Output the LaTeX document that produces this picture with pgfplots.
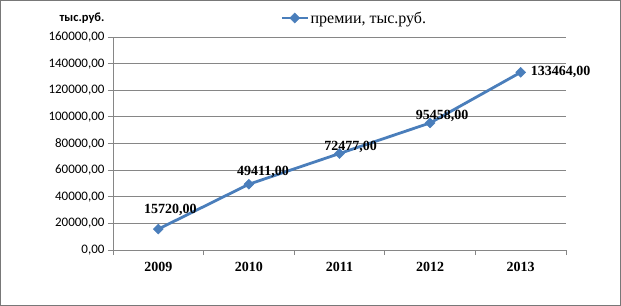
\documentclass[border=0pt]{standalone}
\usepackage{pgfplots}
\pgfplotsset{compat=1.18}
\usepackage{pgfplotstable}
\usepackage{fontspec}
\setmainfont{Liberation Serif}
\newfontfamily\calibri{Carlito}
\definecolor{serblue}{RGB}{74,126,187}
\definecolor{gridgray}{RGB}{134,134,134}
\definecolor{framegray}{RGB}{120,120,120}
\pgfplotstableread{
x y dx dy lab
0 15720 12 19 15720,00
1 49411 14 12.5 49411,00
2 72477 11 7 72477,00
3 95458 12 6.6 95458,00
}\labtab
\pgfplotstableread{
x y lab
4 133464 133464,00
}\labtabb
\begin{document}
\begin{tikzpicture}
\path[use as bounding box] (-113bp,-56bp) rectangle (508bp,250bp);
\draw[framegray, line width=1bp] (-112.5bp,-55.5bp) rectangle (507.5bp,249.5bp);
\begin{axis}[
  at={(0,0)}, anchor=south west,
  scale only axis, width=453bp, height=213bp,
  xmin=-0.5, xmax=4.5, ymin=0, ymax=160000,
  axis x line=bottom, axis y line=left,
  axis line style={gridgray, line width=0.8bp, -},
  xtick={0,...,4}, xticklabels={2009,2010,2011,2012,2013},
  minor xtick={-0.5,0.5,...,4.5},
  major x tick style={draw=none},
  minor x tick style={gridgray, line width=0.8bp},
  ytick={0,20000,...,160000},
  y tick style={gridgray, line width=0.8bp},
  tick align=outside,
  major tick length=5bp, minor tick length=5bp,
  ymajorgrids, grid style={gridgray, line width=0.8bp},
  scaled y ticks=false,
  yticklabel style={font=\calibri\fontsize{13bp}{15bp}\selectfont, /pgf/number format/.cd, fixed, fixed zerofill, precision=2, use comma, 1000 sep={}, assume math mode=true},
  xticklabel style={font=\bfseries\fontsize{14bp}{16bp}\selectfont, yshift=-4bp},
  legend style={at={(0.532,1.089)}, anchor=center, draw=none, fill=none,
    font=\fontsize{16bp}{18bp}\selectfont, inner sep=0pt,
    nodes={inner sep=1.5bp}},
  legend image code/.code={\draw[mark repeat=2,mark phase=2,#1] plot coordinates {(0bp,0bp) (13bp,0bp) (26bp,0bp)};},
  clip=false,
]
\addplot[serblue, line width=2.8bp, mark=square*, mark size=3.5bp, mark options={rotate=45, solid, fill=serblue, line width=0.5bp}]
  coordinates {(0,15720) (1,49411) (2,72477) (3,95458) (4,133464)};
\addlegendentry{премии, тыс.руб.}
\addplot[draw=none, mark=none, nodes near coords, point meta=explicit symbolic,
  visualization depends on=\thisrow{dx}\as\dx,
  visualization depends on=\thisrow{dy}\as\dy,
  nodes near coords style={anchor=center, xshift=\dx bp, yshift=\dy bp, font=\bfseries\fontsize{14bp}{16bp}\selectfont, inner sep=0pt}]
  table[x=x, y=y, meta=lab] {\labtab};
\addplot[draw=none, mark=none, nodes near coords, point meta=explicit symbolic,
  nodes near coords style={anchor=west, xshift=10bp, yshift=0bp, font=\bfseries\fontsize{14bp}{16bp}\selectfont, inner sep=0pt}]
  table[x=x, y=y, meta=lab] {\labtabb};
\end{axis}
\node[font=\calibri\bfseries\fontsize{12.5bp}{14bp}\selectfont, inner sep=0pt] at (-31bp,232bp) {тыс.руб.};
\end{tikzpicture}
\end{document}
